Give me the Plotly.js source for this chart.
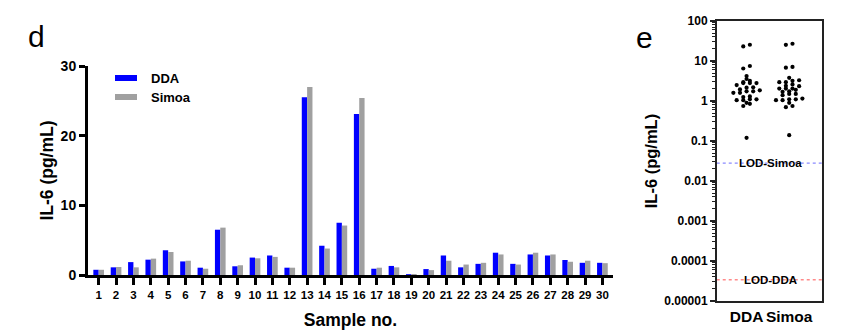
<!DOCTYPE html>
<html>
<head>
<meta charset="utf-8">
<script src="https://cdn.plot.ly/plotly-3.0.1.min.js"></script>
<style>html,body{margin:0;padding:0;background:#fff;}#chart{width:865px;height:333px;}</style>
</head>
<body>
<div id="chart"></div>
<script>
// ---- data ----
const samples = Array.from({length: 30}, (_, i) => String(i + 1));
const ddaValues = [0.75, 1.1, 1.85, 2.2, 3.55, 1.95, 1.05, 6.5, 1.25, 2.5,
                   2.8, 1.05, 25.5, 4.2, 7.5, 23.1, 0.9, 1.3, 0.12, 0.85,
                   2.8, 1.1, 1.6, 3.2, 1.6, 2.95, 2.8, 2.15, 1.75, 1.75];
const simoaValues = [0.75, 1.15, 1.1, 2.35, 3.3, 2.05, 0.9, 6.8, 1.4, 2.4,
                     2.6, 1.05, 27.0, 3.8, 7.1, 25.4, 1.05, 1.1, 0.14, 0.7,
                     2.05, 1.5, 1.75, 2.95, 1.5, 3.2, 2.95, 1.9, 2.05, 1.7];
const methods = ['DDA', 'Simoa'];
const lodSimoa = 0.028;
const lodDDA = 0.000034;
const logTickVals = [0.00001, 0.0001, 0.001, 0.01, 0.1, 1, 10, 100];
const logTickText = ['0.00001', '0.0001', '0.001', '0.01', '0.1', '1', '10', '100'];
const barTickVals = [0, 10, 20, 30];

// ---- helpers ----
const W = 865, H = 333;
const px = v => v / W;
const py = v => 1 - v / H;
const FONT = 'Liberation Sans, Arial, sans-serif';
const BLUE = '#0000ff';
const GRAY = '#a0a0a0';

// beeswarm offsets (layout computation from the values)
function swarm(vals, center, step, binw) {
  const idx = vals.map((v, i) => i).sort((a, b) => vals[a] - vals[b]);
  const xs = new Array(vals.length);
  let row = [];
  let rowStart = null;
  const flush = () => {
    const k = row.length;
    row.forEach((id, j) => { xs[id] = center + (j - (k - 1) / 2) * step; });
    row = [];
  };
  idx.forEach(id => {
    const lv = Math.log10(vals[id]);
    if (rowStart === null || lv - rowStart > binw) { flush(); rowStart = lv; }
    row.push(id);
  });
  flush();
  return xs;
}

const minorVals = [];
for (let e = -5; e < 2; e++) for (let m = 2; m <= 9; m++) minorVals.push(m * Math.pow(10, e));

const traces = [
  {type: 'bar', name: 'DDA', x: samples, y: ddaValues, marker: {color: BLUE},
   xaxis: 'x', yaxis: 'y', showlegend: false},
  {type: 'bar', name: 'Simoa', x: samples, y: simoaValues, marker: {color: GRAY},
   xaxis: 'x', yaxis: 'y', showlegend: false},
  {type: 'scatter', mode: 'lines', x: [-0.7, 1.8], y: [lodSimoa, lodSimoa],
   line: {color: '#8a8aff', width: 1.3, dash: 'dot'}, xaxis: 'x2', yaxis: 'y2', showlegend: false, hoverinfo: 'skip'},
  {type: 'scatter', mode: 'lines', x: [-0.7, 1.8], y: [lodDDA, lodDDA],
   line: {color: '#ff8a8a', width: 1.3, dash: 'dot'}, xaxis: 'x2', yaxis: 'y2', showlegend: false, hoverinfo: 'skip'},
  {type: 'scatter', mode: 'markers', name: 'DDA', x: swarm(ddaValues, 0, 0.155, 0.065), y: ddaValues,
   marker: {color: '#000', size: 4.2}, xaxis: 'x2', yaxis: 'y2', showlegend: false},
  {type: 'scatter', mode: 'markers', name: 'Simoa', x: swarm(simoaValues, 1, 0.155, 0.065), y: simoaValues,
   marker: {color: '#000', size: 4.2}, xaxis: 'x2', yaxis: 'y2', showlegend: false}
];

const boldFont = (size) => ({family: FONT, size: size, color: '#000', weight: 'bold'});

const layout = {
  width: W, height: H,
  margin: {l: 0, r: 0, t: 0, b: 0},
  paper_bgcolor: '#fff', plot_bgcolor: '#fff',
  showlegend: false,
  barmode: 'group', bargap: 0.385, bargroupgap: 0,
  xaxis: {
    domain: [px(88), px(613)], anchor: 'y', type: 'category',
    range: [-0.615, 29.61],
    showline: true, linewidth: 3, linecolor: '#000',
    ticks: 'outside', ticklen: 7, tickwidth: 3, tickcolor: '#000',
    tickfont: boldFont(11.5), showgrid: false, zeroline: false,
    title: {text: 'Sample no.', font: boldFont(17.5), standoff: 14}
  },
  yaxis: {
    domain: [py(275), py(66)], anchor: 'x',
    range: [0, 30], tickvals: barTickVals,
    showline: true, linewidth: 3, linecolor: '#000',
    ticks: 'outside', ticklen: 6, tickwidth: 3, tickcolor: '#000',
    tickfont: boldFont(14), showgrid: false, zeroline: false,
    title: {text: 'IL-6 (pg/mL)', font: boldFont(17.5), standoff: 3}
  },
  xaxis2: {
    domain: [px(717), px(822)], anchor: 'y2',
    range: [-0.694, 1.77],
    showline: true, mirror: true, linewidth: 2, linecolor: '#222',
    tickvals: [0, 1], ticktext: methods, ticks: '',
    tickfont: boldFont(15.5), showgrid: false, zeroline: false
  },
  yaxis2: {
    domain: [py(301), py(21)], anchor: 'x2', type: 'log',
    range: [-5, 2],
    showline: true, mirror: true, linewidth: 2, linecolor: '#222',
    tickvals: logTickVals, ticktext: logTickText,
    ticks: 'outside', ticklen: 5, tickwidth: 2, tickcolor: '#222',
    minor: {tickvals: minorVals, ticks: 'outside', ticklen: 3, tickwidth: 1, tickcolor: '#222', showgrid: false},
    tickfont: boldFont(12), showgrid: false, zeroline: false,
    title: {text: 'IL-6 (pg/mL)', font: boldFont(16.5), standoff: 2}
  },
  shapes: [
    {type: 'rect', xref: 'paper', yref: 'paper', x0: px(115), x1: px(137), y0: py(81), y1: py(75),
     fillcolor: BLUE, line: {width: 0}},
    {type: 'rect', xref: 'paper', yref: 'paper', x0: px(115), x1: px(137), y0: py(100), y1: py(94),
     fillcolor: GRAY, line: {width: 0}}
  ],
  annotations: [
    {text: 'DDA', xref: 'paper', yref: 'paper', x: px(149), y: py(78), xanchor: 'left', yanchor: 'middle',
     showarrow: false, font: boldFont(13)},
    {text: 'Simoa', xref: 'paper', yref: 'paper', x: px(149), y: py(97), xanchor: 'left', yanchor: 'middle',
     showarrow: false, font: boldFont(13)},
    {text: 'LOD-Simoa', xref: 'x2', yref: 'y2', x: 0.55, y: Math.log10(lodSimoa), xanchor: 'center', yanchor: 'middle',
     showarrow: false, font: boldFont(11.5)},
    {text: 'LOD-DDA', xref: 'x2', yref: 'y2', x: 0.55, y: Math.log10(lodDDA), xanchor: 'center', yanchor: 'middle',
     showarrow: false, font: boldFont(11.5)},
    {text: 'd', xref: 'paper', yref: 'paper', x: px(36), y: py(36), xanchor: 'center', yanchor: 'middle',
     showarrow: false, font: {family: FONT, size: 30, color: '#000'}},
    {text: 'e', xref: 'paper', yref: 'paper', x: px(644), y: py(38), xanchor: 'center', yanchor: 'middle',
     showarrow: false, font: {family: FONT, size: 30, color: '#000'}}
  ]
};

Plotly.newPlot('chart', traces, layout, {displayModeBar: false, staticPlot: true});
</script>
</body>
</html>
